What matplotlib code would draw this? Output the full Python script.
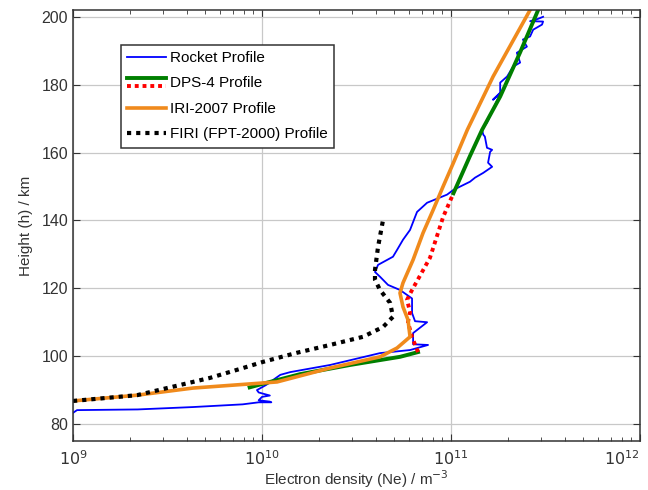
import matplotlib
matplotlib.use("Agg")
import matplotlib.pyplot as plt
from matplotlib.legend_handler import HandlerBase
from matplotlib.lines import Line2D

plt.rcParams['font.family'] = ['Liberation Sans', 'DejaVu Sans']

# Rocket profile (electron density m^-3, height km)
rocket_ne = [1.0e9, 1.05e9, 2.2e9, 4.3e9, 7.9e9, 9.6e9, 1.12e10, 1.1e10, 9.6e9, 1.0e10,
             1.1e10, 9.6e9, 9.4e9, 1.05e10, 1.2e10, 1.25e10, 1.41e10, 2.29e10, 4.21e10,
             6.07e10, 7.56e10, 6.3e10, 6.3e10, 7.47e10, 6.45e10, 6.22e10, 6.22e10, 5.37e10,
             4.64e10, 4.21e10, 3.96e10, 4.11e10, 4.93e10, 5.18e10, 5.57e10, 6.07e10, 6.45e10,
             6.61e10, 7.47e10, 9.53e10, 1.03e11, 1.26e11, 1.34e11, 1.48e11, 1.65e11, 1.57e11,
             1.61e11, 1.65e11, 1.55e11, 1.51e11, 1.48e11, 1.46e11, 1.55e11, 1.67e11, 1.82e11,
             1.67e11, 1.82e11, 1.82e11, 1.98e11, 2.13e11, 2.32e11, 2.23e11, 2.52e11, 2.40e11,
             2.62e11, 2.72e11, 3.03e11, 3.07e11, 2.62e11, 2.89e11, 3.07e11]
rocket_h = [83.3, 84.1, 84.3, 85.0, 85.8, 86.4, 86.4, 86.6, 87.0, 88.0,
            88.4, 89.3, 90.0, 91.5, 93.8, 94.5, 95.3, 97.4, 100.9,
            101.8, 103.3, 103.5, 106.8, 110.0, 110.3, 112.7, 117.0, 119.5,
            121.0, 123.4, 124.8, 126.9, 129.3, 131.3, 134.3, 137.2, 141.0,
            142.5, 145.2, 147.6, 149.0, 151.4, 152.6, 154.0, 155.8, 157.0,
            160.2, 160.8, 161.4, 164.7, 165.3, 166.7, 168.8, 172.6, 177.6,
            175.6, 177.6, 180.6, 182.4, 185.3, 186.5, 189.4, 191.2, 193.3,
            194.2, 196.2, 197.7, 198.6, 198.7, 199.4, 200.0]

# DPS-4 profile: measured parts (green) and the joining part (red dotted)
dps_low_ne = [8.6e9, 1.0e10, 1.59e10, 2.92e10, 5.37e10, 6.69e10]
dps_low_h = [90.8, 91.8, 94.7, 97.4, 99.8, 101.2]
dps_mid_ne = [6.69e10, 6.22e10, 5.92e10, 6.07e10, 5.85e10, 6.22e10, 7.74e10, 9.08e10, 1.03e11]
dps_mid_h = [101.2, 105.6, 110.0, 113.0, 116.6, 119.5, 129.0, 141.0, 148.0]
dps_top_ne = [1.03e11, 1.26e11, 1.46e11, 1.82e11, 2.32e11, 2.89e11]
dps_top_h = [148.0, 159.0, 166.7, 176.5, 189.5, 202.0]

# IRI-2007 profile
iri_ne = [1.0e9, 2.18e9, 4.31e9, 1.2e10, 2.29e10, 4.21e10, 5.18e10, 6.07e10, 5.92e10,
          5.57e10, 5.37e10, 5.57e10, 6.3e10, 7.11e10, 8.03e10, 9.08e10, 1.03e11, 1.22e11,
          1.67e11, 2.62e11]
iri_h = [86.8, 88.5, 90.6, 92.4, 96.5, 99.8, 102.4, 105.7, 110.7,
         114.5, 118.6, 121.6, 128.4, 136.3, 143.0, 150.0, 157.0, 166.7,
         182.4, 202.0]

# FIRI (FPT-2000) profile
firi_ne = [1.0e9, 2.18e9, 5.31e9, 7.93e9, 1.01e10, 1.53e10, 2.29e10, 3.42e10, 4.37e10,
           4.93e10, 4.76e10, 4.21e10, 3.96e10, 3.96e10, 4.11e10, 4.37e10]
firi_h = [86.8, 88.5, 93.6, 96.5, 98.3, 101.0, 103.3, 105.7, 108.6,
          111.6, 115.7, 119.5, 122.5, 125.4, 132.2, 140.2]

x_ticks = [1e9, 1e10, 1e11, 1e12]
x_labels = ['$10^{9}$', '$10^{10}$', '$10^{11}$', '$10^{12}$']
y_ticks = [80, 100, 120, 140, 160, 180, 200]


class StackedHandler(HandlerBase):
    # draws the two lines of a tuple one above the other
    def create_artists(self, legend, orig_handle, xdescent, ydescent,
                       width, height, fontsize, trans):
        arts = []
        for h, frac in zip(orig_handle, (0.85, 0.1)):
            y = frac * height - ydescent
            ln = Line2D([-xdescent, -xdescent + width], [y, y])
            ln.update_from(h)
            ln.set_transform(trans)
            arts.append(ln)
        return arts


fig = plt.figure(figsize=(6.48, 4.9), dpi=100)
ax = fig.add_axes([0.1127, 0.1, 0.875, 0.8796])

blue, = ax.semilogx(rocket_ne, rocket_h, color='#0000ff', lw=1.3)
green, = ax.semilogx(dps_low_ne, dps_low_h, color='#007f00', lw=2.8)
ax.semilogx(dps_top_ne, dps_top_h, color='#007f00', lw=2.8)
red, = ax.semilogx(dps_mid_ne, dps_mid_h, color='#ff0000', lw=2.8, ls=(0, (1, 1)))
orange, = ax.semilogx(iri_ne, iri_h, color='#f08a1c', lw=2.6)
black, = ax.semilogx(firi_ne, firi_h, color='black', lw=3, ls=(0, (1, 1.2)))

ax.set_xlim(1e9, 1e12)
ax.set_ylim(75, 202)
ax.set_xticks(x_ticks, labels=x_labels)
ax.set_yticks(y_ticks)
ax.grid(True, which='major', color='#c8c8c8', lw=0.9)
ax.set_axisbelow(True)
ax.tick_params(which='both', direction='in', top=True, right=True, labelsize=11.5, colors='#333333')
ax.tick_params(which='major', length=5)
ax.tick_params(which='minor', length=3)
ax.tick_params(axis='x', which='major', pad=6)
for s in ax.spines.values():
    s.set_color('#333333')
    s.set_linewidth(1.1)

# keep the last x tick label inside the figure
ax.xaxis.get_major_ticks()[-1].label1.set_horizontalalignment('right')

ax.set_xlabel('Electron density (Ne) / m$^{-3}$', fontsize=11, color='#333333', labelpad=0)
ax.set_ylabel('Height (h) / km', fontsize=11, color='#333333', labelpad=6)

leg = ax.legend([blue, (green, red), orange, black],
                ['Rocket Profile', 'DPS-4 Profile', 'IRI-2007 Profile', 'FIRI (FPT-2000) Profile'],
                handler_map={tuple: StackedHandler()},
                loc='upper left', bbox_to_anchor=(0.085, 0.919), borderaxespad=0,
                fancybox=False, edgecolor='#333333', fontsize=11, framealpha=1,
                handlelength=2.5, handletextpad=0.3, labelspacing=0.75)
leg.get_frame().set_linewidth(1.1)

fig.savefig('out.png', dpi=100)
